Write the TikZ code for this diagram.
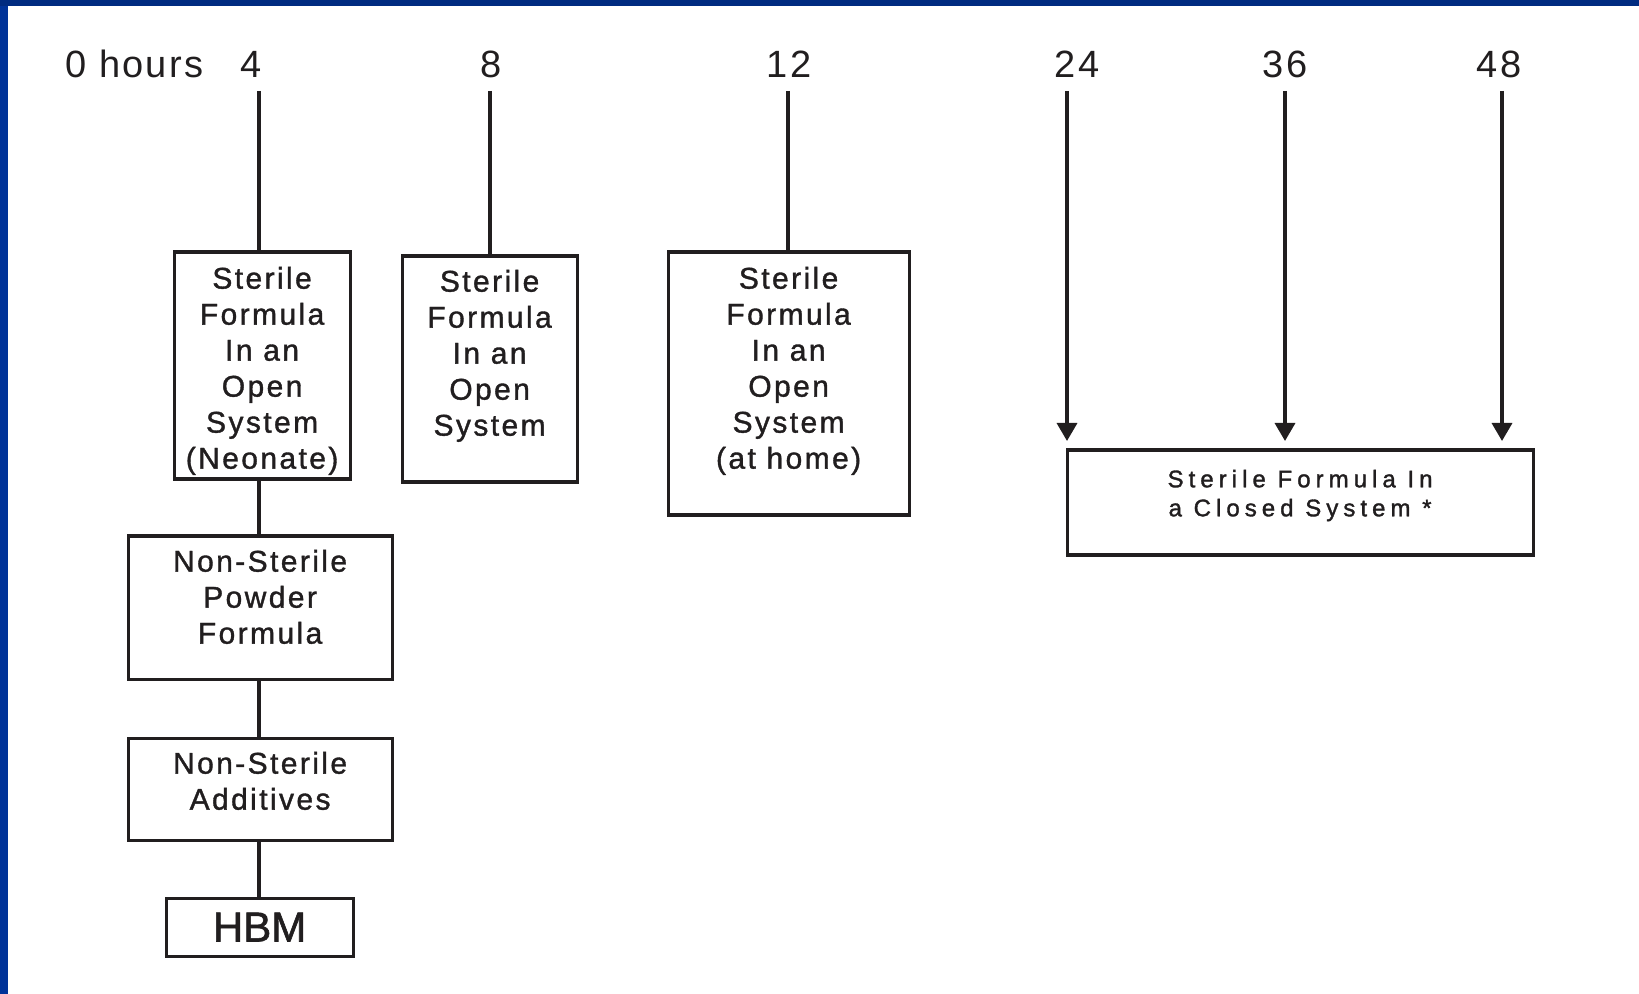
\documentclass[tikz,border=0pt]{standalone}
\usepackage{fontspec}
\setmainfont{Liberation Sans}
\newfontfamily\tickfont{Liberation Sans}[LetterSpace=6]
\newfontfamily\boxfont{Liberation Sans}[LetterSpace=8,FakeBold=1.2]
\newfontfamily\widefont{Liberation Sans}[LetterSpace=21,FakeBold=1.4]
\newfontfamily\hbmfont{Liberation Sans}[FakeBold=1.5]
\usepackage{tikz}
\usetikzlibrary{positioning}
\usetikzlibrary{arrows.meta}
\definecolor{sideblue}{RGB}{0,51,153}
\definecolor{topblue}{RGB}{0,43,128}
\definecolor{ink}{RGB}{33,30,31}

\tikzset{
    tick/.style={ink, font=\tickfont\fontsize{19}{22}\selectfont, anchor=base},
    box/.style={draw=ink, line width=1.6pt, anchor=north west, inner sep=0pt},
    boxtext/.style={ink, inner sep=0pt, align=center, font=\boxfont\fontsize{15}{18}\selectfont},
    conn/.style={draw=ink, line width=1.7pt},
    arr/.style={conn, -{Triangle[width=10pt,length=9pt]}, shorten >=3.75pt}
}

\begin{document}
\begin{tikzpicture}[x=0.5pt, y=-0.5pt]

    \useasboundingbox (0,0) rectangle (1639,994);
    \fill[white] (0,0) rectangle (1639,994);
    \fill[sideblue] (0,0) rectangle (8,994);
    \fill[topblue] (0,0) rectangle (1639,6);

    \node[tick, anchor=base west] (t0) at (58,78) {0 hours};
    \node[tick] (t4) at (251,78) {4};
    \node[tick] (t8) at (491,78) {8};
    \node[tick] (t12) at (789,78) {12};
    \node[tick] (t24) at (1077,78) {24};
    \node[tick] (t36) at (1285,78) {36};
    \node[tick] (t48) at (1499,78) {48};

    \coordinate (top4) at (259,91);
    \coordinate (top8) at (490,91);
    \coordinate (top12) at (788,91);
    \coordinate (top24) at (1067,91);
    \coordinate (top36) at (1285,91);
    \coordinate (top48) at (1502,91);

    \node[box, minimum width=88pt, minimum height=113.5pt] (neo) at (172.5,250.5) {};
    \node[boxtext, below=8pt of neo.north] (neotext) {Sterile\\Formula\\In an\\Open\\System\\(Neonate)};

    \node[box, minimum width=87.5pt, minimum height=113pt] (open) at (400.5,254.5) {};
    \node[boxtext, below=7.5pt of open.north] (opentext) {Sterile\\Formula\\In an\\Open\\System};

    \node[box, minimum width=120.5pt, minimum height=131.5pt] (home) at (666.5,250.5) {};
    \node[boxtext, below=8pt of home.north] (hometext) {Sterile\\Formula\\In an\\Open\\System\\(at home)};

    \node[box, minimum width=233pt, minimum height=52.5pt] (closed) at (1065.5,448.5) {};
    \node[boxtext, font=\widefont\fontsize{12}{14.5}\selectfont, below=10.5pt of closed.north] (closedtext) {Sterile Formula In\\a Closed System *};

    \node[box, minimum width=132pt, minimum height=71.5pt] (powder) at (126.5,534.5) {};
    \node[boxtext, below=7.5pt of powder.north] (powdertext) {Non-Sterile\\Powder\\Formula};

    \node[box, minimum width=132pt, minimum height=51pt] (additives) at (126.5,736.5) {};
    \node[boxtext, below=7.5pt of additives.north] (additivestext) {Non-Sterile\\Additives};

    \node[box, minimum width=93.5pt, minimum height=29pt, font=\hbmfont\fontsize{21}{24}\selectfont, text=ink] (hbm) at (164.5,896.5) {HBM};

    \draw[conn] (top4) -- (top4 |- neo.north);
    \draw[conn] (top8) -- (top8 |- open.north);
    \draw[conn] (top12) -- (top12 |- home.north);

    \draw[arr] (top24) -- (top24 |- closed.north);
    \draw[arr] (top36) -- (top36 |- closed.north);
    \draw[arr] (top48) -- (top48 |- closed.north);

    \draw[conn] (top4 |- neo.south) -- (top4 |- powder.north);
    \draw[conn] (top4 |- powder.south) -- (top4 |- additives.north);
    \draw[conn] (top4 |- additives.south) -- (top4 |- hbm.north);

\end{tikzpicture}
\end{document}
